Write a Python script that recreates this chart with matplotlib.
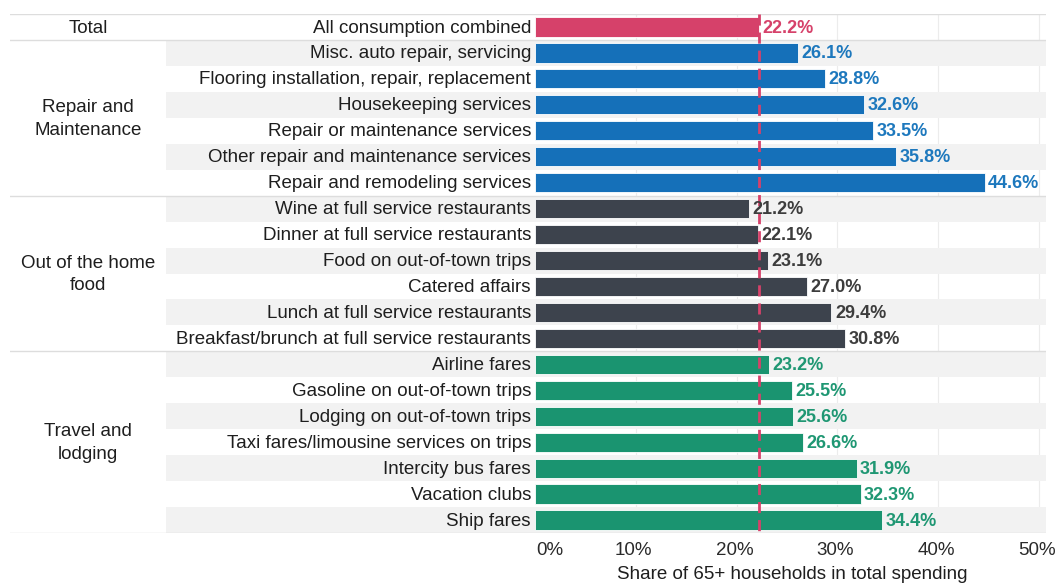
"""Share of 65+ households in total spending, by category."""

import matplotlib.pyplot as plt
from matplotlib.transforms import blended_transform_factory

plt.rcParams["font.family"] = ["Liberation Sans", "DejaVu Sans"]

groups = ["Total", "Repair and\nMaintenance", "Out of the home\nfood", "Travel and\nlodging"]

total_items = ["All consumption combined"]
total_values = [22.2]

repair_items = [
    "Misc. auto repair, servicing",
    "Flooring installation, repair, replacement",
    "Housekeeping services",
    "Repair or maintenance services",
    "Other repair and maintenance services",
    "Repair and remodeling services",
]
repair_values = [26.1, 28.8, 32.6, 33.5, 35.8, 44.6]

food_items = [
    "Wine at full service restaurants",
    "Dinner at full service restaurants",
    "Food on out-of-town trips",
    "Catered affairs",
    "Lunch at full service restaurants",
    "Breakfast/brunch at full service restaurants",
]
food_values = [21.2, 22.1, 23.1, 27.0, 29.4, 30.8]

travel_items = [
    "Airline fares",
    "Gasoline on out-of-town trips",
    "Lodging on out-of-town trips",
    "Taxi fares/limousine services on trips",
    "Intercity bus fares",
    "Vacation clubs",
    "Ship fares",
]
travel_values = [23.2, 25.5, 25.6, 26.6, 31.9, 32.3, 34.4]

reference = 22.2
ticks = [0, 10, 20, 30, 40, 50]

bar_colors = ["#d6416a", "#1570b9", "#3d434d", "#1a9470"]
text_colors = ["#d6416a", "#1d78bd", "#3d3d3d", "#1f9773"]

W, H = 1059, 584
fig = plt.figure(figsize=(W / 100, H / 100), dpi=100)

# axes covers x pixels 10..1046, y pixels 14..533; 0% at 535 px, 10.08 px per %
x0_px, px_per = 535.0, 10.08
left_px, right_px = 10, 1046
top_px, bot_px = 14, 533
ax = fig.add_axes([left_px / W, 1 - bot_px / H, (right_px - left_px) / W, (bot_px - top_px) / H])
xmin = (left_px - x0_px) / px_per
xmax = (right_px - x0_px) / px_per
ax.set_xlim(xmin, xmax)

sections = [
    (total_items, total_values),
    (repair_items, repair_values),
    (food_items, food_values),
    (travel_items, travel_values),
]
n_rows = sum(len(items) for items, _ in sections)
ax.set_ylim(n_rows - 0.5, -0.5)

shade_left = (166 - x0_px) / px_per
label_x = -0.4
group_x = (88 - x0_px) / px_per

for t in ticks[1:]:
    ax.plot([t, t], [-0.5, n_rows - 0.5], color="#ececec", lw=0.8, zorder=0)

row = 0
for g, (items, values) in enumerate(sections):
    start = row
    for i, (name, val) in enumerate(zip(items, values)):
        if g > 0 and i % 2 == 0:
            ax.axhspan(row - 0.5, row + 0.5, xmin=(shade_left - xmin) / (xmax - xmin),
                       xmax=1, color="#f2f2f2", lw=0, zorder=0)
        ax.barh(row, val, height=0.74, color=bar_colors[g], edgecolor="white",
                linewidth=0.6, zorder=2)
        ax.text(label_x, row + 0.04, name, ha="right", va="center", fontsize=13.5,
                color="#1e1e1e")
        ax.text(val + 0.35, row + 0.04, f"{val:.1f}%", ha="left", va="center", fontsize=13,
                fontweight="bold", color=text_colors[g], zorder=4)
        row += 1
    ax.text(group_x, (start + row - 1) / 2 + 0.04, groups[g], ha="center", va="center",
            fontsize=13.5, color="#1e1e1e", linespacing=1.45)
    ax.axhline(row - 0.5, color="#dddddd", lw=1, zorder=1)
ax.axhline(-0.5, color="#dddddd", lw=1, zorder=1)

ax.plot([reference, reference], [-0.5, n_rows - 0.5], color="#d6416a", lw=2,
        ls=(0, (4, 2.5)), zorder=3)

for spine in ax.spines.values():
    spine.set_visible(False)
ax.set_yticks([])
ax.set_xticks([])

trans = blended_transform_factory(ax.transData, ax.transAxes)
for t in ticks:
    ha = "left" if t == ticks[0] else "center"
    ax.text(t + (0.15 if t == 0 else -0.2), -0.034, f"{t}%", transform=trans, ha=ha,
            va="center", fontsize=13.5, color="#2a2a2a")
ax.text(25.5, -0.08, "Share of 65+ households in total spending", transform=trans,
        ha="center", va="center", fontsize=13.5, color="#1e1e1e")

fig.savefig("out.png", dpi=100)
